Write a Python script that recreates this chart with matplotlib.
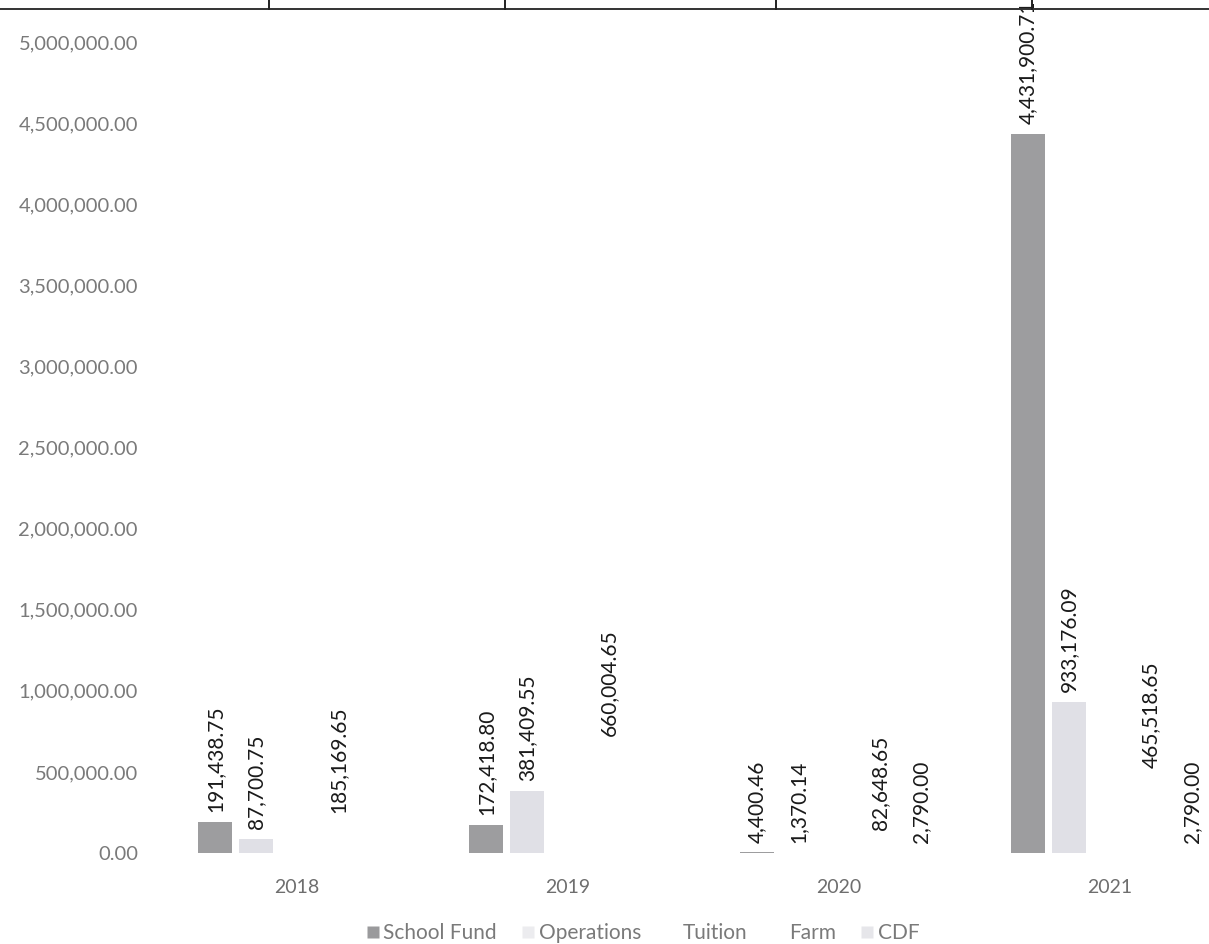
import numpy as np
import matplotlib.pyplot as plt
from matplotlib.lines import Line2D

# Fund totals per year (blank where no figure was recorded)
years = ["2018", "2019", "2020", "2021"]
series = ["School Fund", "Operations", "Tuition", "Farm", "CDF"]
school_fund = [191438.75, 172418.80, 4400.46, 4431900.71]
operations = [87700.75, 381409.55, 1370.14, 933176.09]
tuition = [np.nan, np.nan, np.nan, np.nan]
farm = [185169.65, 660004.65, 82648.65, 465518.65]
cdf = [np.nan, np.nan, 2790.00, 2790.00]

values = [school_fund, operations, tuition, farm, cdf]
colors = ["#9d9d9f", "#e0e0e6", "#ffffff", "#ffffff", "#f2f2f4"]
legend_colors = ["#9a9a9c", "#ececef", "#ffffff", "#ffffff", "#e6e6ea"]

plt.rcParams['font.family'] = ['Lato', 'DejaVu Sans']

fig = plt.figure(figsize=(12.09, 9.44), dpi=100)
ax = fig.add_axes([0.1336, 0.0964, 0.8966, 0.8591])

x = np.arange(len(years))
step = 0.1513
width = 0.122

for j, (name, vals) in enumerate(zip(series, values)):
    pos = x + (j - 2) * step
    v = np.array(vals, dtype=float)
    ax.bar(pos, np.nan_to_num(v), width=width, color=colors[j], linewidth=0)
    for xp, val in zip(pos, v):
        if np.isnan(val):
            continue
        ax.annotate(f"{val:,.2f}", (xp, val), xytext=(0, 7),
                    textcoords="offset points", rotation=90,
                    ha="center", va="bottom", fontsize=15,
                    color="#1a1a1a", clip_on=False, annotation_clip=False)

ax.set_xlim(-0.5, 3.5)
ax.set_ylim(0, 5000000)
ax.set_yticks(np.arange(0, 5000001, 500000))
ax.yaxis.set_major_formatter(plt.FuncFormatter(lambda v, p: f"{v:,.2f}"))
ax.set_xticks(x)
ax.set_xticklabels(years)
ax.tick_params(axis="y", length=0, pad=17, labelsize=14.5, labelcolor="#7a7a7a")
ax.tick_params(axis="x", length=0, pad=19, labelsize=14, labelcolor="#6e6e6e")
for s in ax.spines.values():
    s.set_visible(False)

handles = [Line2D([], [], marker="s", linestyle="", markersize=8,
                  markerfacecolor=c, markeredgecolor="none") for c in legend_colors]
fig.legend(handles, series, loc="center", bbox_to_anchor=(0.531, 1 - 933 / 944),
           ncol=5, frameon=False, fontsize=15, labelcolor="#7a7a7a",
           handletextpad=0.1, columnspacing=1.1, handlelength=0.8)

# ruled table edge running across the top of the page
fig.add_artist(Line2D([0, 1], [1 - 9 / 944, 1 - 9 / 944], color="#333333", lw=1.4))
for px in [269, 505, 776, 1032]:
    fig.add_artist(Line2D([px / 1209, px / 1209], [1 - 9 / 944, 1], color="#222222", lw=1.4))

fig.savefig("out.png", dpi=100)
